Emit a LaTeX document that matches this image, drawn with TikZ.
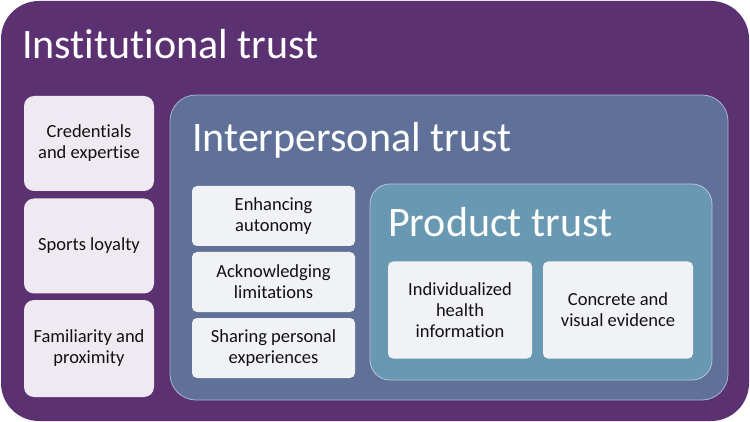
\documentclass[tikz,border=0pt]{standalone}
\usepackage{fontspec}
\setmainfont{Carlito}[RawFeature={-liga;-calt;-clig}]
\definecolor{outerP}{HTML}{5B3171}
\definecolor{interB}{HTML}{5F7199}
\definecolor{prodB}{HTML}{6999B2}
\definecolor{lav}{HTML}{EFEAF1}
\definecolor{pale}{HTML}{F0F2F6}
\definecolor{edgeL}{HTML}{A9B4CC}
\definecolor{txt}{HTML}{111111}
\tikzset{
  lbox/.style={draw=none, fill=lav, rounded corners=10pt, align=center, font=\fontsize{18.5}{21}\selectfont, text=txt},
  ibox/.style={draw=none, fill=pale, rounded corners=5pt, align=center, font=\fontsize{18.5}{21}\selectfont, text=txt},
  ttl/.style={anchor=base west, text=white, inner sep=0pt, font=\fontsize{42}{46}\selectfont},
}
\begin{document}
\begin{tikzpicture}[x=1pt,y=-1pt]
\useasboundingbox (0,0) rectangle (750,422);
\fill[white] (0,0) rectangle (750,422);
% outer
\fill[outerP, rounded corners=38pt] (1,1) rectangle (749,421);
\node[ttl] (t1) at (22,59) {Institutional trust};
% left boxes
\node[lbox, minimum width=130pt, minimum height=95pt] (c1) at (89,143.5) {Credentials\\and expertise};
\node[lbox, minimum width=130pt, minimum height=95pt] (c2) at (89,246) {Sports loyalty};
\node[lbox, minimum width=130pt, minimum height=97pt] (c3) at (89,348.5) {Familiarity and\\proximity};
% interpersonal
\draw[edgeL, line width=0.8pt, fill=interB, rounded corners=26pt] (170,95) rectangle (728,400);
\node[ttl] (t2) at (192,152) {Interpersonal trust};
\node[ibox, minimum width=163pt, minimum height=60pt] (m1) at (273.5,216) {Enhancing\\autonomy};
\node[ibox, minimum width=163pt, minimum height=60pt] (m2) at (273.5,282) {Acknowledging\\limitations};
\node[ibox, minimum width=163pt, minimum height=60pt] (m3) at (273.5,348) {Sharing personal\\experiences};
% product
\draw[edgeL!80!white, line width=0.8pt, fill=prodB, rounded corners=20pt] (370,184) rectangle (712,380);
\node[ttl] (t3) at (388,237) {Product trust};
\node[ibox, minimum width=144pt, minimum height=97pt] (p1) at (460,310) {Individualized\\health\\information};
\node[ibox, minimum width=150pt, minimum height=97pt] (p2) at (618,310) {Concrete and\\visual evidence};
\end{tikzpicture}
\end{document}
